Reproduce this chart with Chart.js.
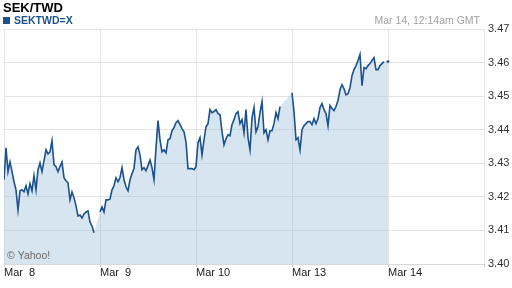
<!DOCTYPE html>
<html>
<head>
<meta charset="utf-8">
<script src="https://cdn.jsdelivr.net/npm/chart.js@4.4.0/dist/chart.umd.min.js"></script>
<style>
  html, body { margin: 0; padding: 0; background: #fff; }
</style>
</head>
<body>
<canvas id="myChart" width="512" height="288"></canvas>
<script>
// SEK/TWD intraday quotes, one every 30 min
const title = "SEK/TWD";
const symbol = "SEKTWD=X";
const stamp = "Mar 14, 12:14am GMT";
const dayLabels = ["Mar  8", "Mar  9", "Mar 10", "Mar 13", "Mar 14"];
const dayStart = [0, 24, 48, 72, 96]; // hours on the x axis
const yTicks = [3.40, 3.41, 3.42, 3.43, 3.44, 3.45, 3.46, 3.47];

const mar8 = [
  3.4251, 3.4346, 3.4275, 3.4304, 3.4275, 3.4245, 3.4221, 3.4161, 3.4218, 3.4221,
  3.4215, 3.4233, 3.4209, 3.4239, 3.4218, 3.4263, 3.4221, 3.4281, 3.4301, 3.4275,
  3.4307, 3.4340, 3.4328, 3.4334, 3.4367, 3.4296, 3.4290, 3.4275, 3.4290, 3.4304,
  3.4257, 3.4248, 3.4242, 3.4191, 3.4215, 3.4197, 3.4173, 3.4143, 3.4146, 3.4137,
  3.4149, 3.4155, 3.4158, 3.4125, 3.4113, 3.4093
];
const mar9 = [
  3.4155, 3.4170, 3.4155, 3.4191, 3.4191, 3.4194, 3.4221, 3.4233, 3.4257, 3.4245,
  3.4257, 3.4287, 3.4251, 3.4230, 3.4218, 3.4251, 3.4269, 3.4284, 3.4340, 3.4349,
  3.4325, 3.4281, 3.4287, 3.4278, 3.4293, 3.4310, 3.4287, 3.4251, 3.4346, 3.4427,
  3.4370, 3.4334, 3.4340, 3.4331, 3.4370, 3.4373, 3.4397, 3.4406, 3.4421, 3.4427,
  3.4415, 3.4403, 3.4394, 3.4364, 3.4284, 3.4284, 3.4284, 3.4281
];
const mar10 = [
  3.4290, 3.4361, 3.4376, 3.4325, 3.4370, 3.4409, 3.4418, 3.4460, 3.4451, 3.4454,
  3.4460, 3.4448, 3.4445, 3.4394, 3.4355, 3.4373, 3.4385, 3.4382, 3.4415, 3.4430,
  3.4448, 3.4454, 3.4418, 3.4430, 3.4391, 3.4460, 3.4376, 3.4340, 3.4436, 3.4466,
  3.4394, 3.4409, 3.4451, 3.4484, 3.4391, 3.4400, 3.4370, 3.4397, 3.4397, 3.4418,
  3.4451, 3.4433, 3.4469
];
const mar13 = [
  3.4510, 3.4454, 3.4370, 3.4376, 3.4340, 3.4400, 3.4412, 3.4418, 3.4424, 3.4424,
  3.4415, 3.4433, 3.4418, 3.4433, 3.4466, 3.4478, 3.4460, 3.4448, 3.4412, 3.4472,
  3.4463, 3.4457, 3.4469, 3.4487, 3.4519, 3.4534, 3.4522, 3.4504, 3.4507, 3.4525,
  3.4561, 3.4579, 3.4591, 3.4606, 3.4624, 3.4531, 3.4585, 3.4582, 3.4591, 3.4597,
  3.4606, 3.4615, 3.4579, 3.4579, 3.4591, 3.4597, 3.4603
];
const mar14 = [3.4603];

const days = [mar8, mar9, mar10, mar13, mar14];
let points = [];
for (let d = 0; d < days.length; d++) {
  for (let i = 0; i < days[d].length; i++) {
    points.push({ x: dayStart[d] + i * 0.5, y: days[d][i] });
  }
}

const font = '"Liberation Sans", Arial, sans-serif';
const lineColor = "#1b518c";

const extras = {
  id: "extras",
  afterDraw(chart) {
    const c = chart.ctx;
    c.save();
    c.textBaseline = "alphabetic";
    c.textAlign = "left";
    c.fillStyle = "#000";
    c.font = "bold 13px " + font;
    c.fillText(title, 3, 12);
    c.fillStyle = lineColor;
    c.fillRect(3, 17, 7, 7);
    c.font = "bold 10.5px " + font;
    c.fillText(symbol, 14, 24);
    c.fillStyle = "#a0a0a0";
    c.font = "10.5px " + font;
    c.textAlign = "right";
    c.fillText(stamp, 480, 24);
    c.textAlign = "left";
    c.fillStyle = "#6a6a6a";
    c.fillText("\u00a9 Yahoo!", 7, 259);
    c.restore();
  }
};

var ctx = document.getElementById("myChart").getContext("2d");
var myChart = new Chart(ctx, {
  type: "line",
  data: {
    datasets: [
      {
        data: points,
        borderColor: lineColor,
        borderWidth: 1.6,
        backgroundColor: "rgba(162,196,221,0.44)",
        fill: "start",
        tension: 0,
        pointRadius: (c) => (c.dataIndex === points.length - 1 ? 1.4 : 0),
        pointBackgroundColor: lineColor,
        pointBorderWidth: 0,
        segment: {
          // no line across the gaps in the quotes, only the fill
          borderColor: (c) => (c.p1.parsed.x - c.p0.parsed.x > 0.6 ? "rgba(0,0,0,0)" : undefined),
        },
      },
    ],
  },
  options: {
    responsive: false,
    animation: false,
    layout: { padding: { top: 29, left: 3, right: 0, bottom: 0 } },
    plugins: { legend: { display: false }, tooltip: { enabled: false } },
    scales: {
      x: {
        type: "linear",
        min: 0,
        max: 120,
        afterFit: (s) => { s.height = 24; },
        afterBuildTicks: (s) => { s.ticks = dayStart.concat([120]).map((v) => ({ value: v })); },
        ticks: {
          align: "start",
          padding: -1,
          maxRotation: 0,
          autoSkip: false,
          color: "#222",
          font: { family: font, size: 11 },
          callback: (v) => dayLabels[dayStart.indexOf(v)] || "",
        },
        grid: { color: "#e4e4e4", tickLength: 3, tickColor: "#d0d0d0" },
        border: { color: "#d8d8d8" },
      },
      y: {
        position: "right",
        min: 3.40,
        max: 3.47,
        afterFit: (s) => { s.width = 28; },
        afterBuildTicks: (s) => { s.ticks = yTicks.map((v) => ({ value: v })); },
        ticks: {
          padding: 4,
          color: "#333",
          font: { family: font, size: 11 },
          callback: (v) => v.toFixed(2),
        },
        grid: { color: "#e4e4e4", drawTicks: false },
        border: { display: false },
      },
    },
  },
  plugins: [extras],
});
</script>
</body>
</html>
